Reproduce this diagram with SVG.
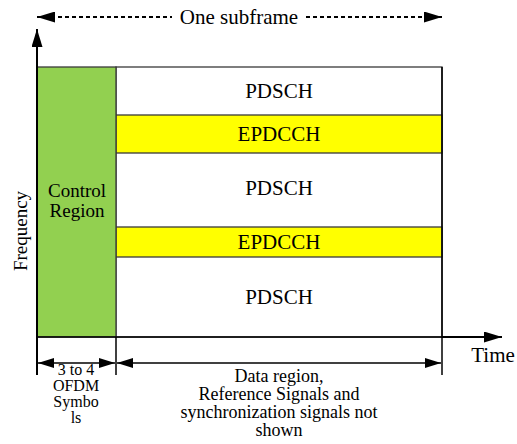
<svg xmlns="http://www.w3.org/2000/svg" width="517" height="444" viewBox="0 0 517 444" font-family="Liberation Serif">
<defs>
<marker id="ah" viewBox="0 0 10 10" refX="10" refY="5" markerWidth="18" markerHeight="11" markerUnits="userSpaceOnUse" orient="auto-start-reverse" preserveAspectRatio="none"><path d="M0,0 L10,5 L0,10 z" fill="#000"/></marker>
<marker id="ahs" viewBox="0 0 10 10" refX="10" refY="5" markerWidth="16" markerHeight="10" markerUnits="userSpaceOnUse" orient="auto-start-reverse" preserveAspectRatio="none"><path d="M0,0 L10,5 L0,10 z" fill="#000"/></marker>
</defs>
<g id="data-area" stroke="#3a3a3a" stroke-width="1.3">
<rect x="116" y="67" width="326" height="270" fill="#fff"/>
</g>
<g id="epdcch1-box" stroke="#3a3a3a" stroke-width="1.3"><rect x="116" y="115" width="326" height="38" fill="#ffff00"/></g>
<g id="epdcch2-box" stroke="#3a3a3a" stroke-width="1.3"><rect x="116" y="227" width="326" height="30" fill="#ffff00"/></g>
<g id="control-region-box" stroke="#3a3a3a" stroke-width="1.3"><rect x="37" y="67" width="79" height="270" fill="#92d050"/></g>
<g id="connectors" fill="none" stroke="#000">
<line stroke-width="2" stroke-dasharray="4 3" x1="37" y1="17" x2="172" y2="17" marker-start="url(#ah)"/>
<line stroke-width="2" stroke-dasharray="4 3" x1="306" y1="17" x2="442" y2="17" marker-end="url(#ah)"/>
<line stroke-width="2" x1="37" y1="375" x2="37" y2="29" marker-end="url(#ah)"/>
<line stroke-width="2" x1="442" y1="337" x2="502" y2="337" marker-end="url(#ah)"/>
<line stroke-width="1.5" x1="116" y1="337" x2="116" y2="375"/>
<line stroke-width="1.5" x1="442" y1="67" x2="442" y2="375"/>
<line stroke-width="1.5" x1="37" y1="337" x2="442" y2="337"/>
<line stroke-width="1.5" x1="38" y1="363" x2="115" y2="363" marker-start="url(#ahs)" marker-end="url(#ahs)"/>
<line stroke-width="1.5" x1="117" y1="363" x2="441" y2="363" marker-start="url(#ahs)" marker-end="url(#ahs)"/>
</g>
<text id="pdsch1" font-family="Liberation Serif" font-size="21" text-anchor="middle" x="279" y="98">PDSCH</text>
<text id="epdcch1" font-family="Liberation Serif" font-size="21" text-anchor="middle" x="279" y="141">EPDCCH</text>
<text id="pdsch2" font-family="Liberation Serif" font-size="21" text-anchor="middle" x="279" y="195">PDSCH</text>
<text id="epdcch2" font-family="Liberation Serif" font-size="21" text-anchor="middle" x="279" y="249">EPDCCH</text>
<text id="pdsch3" font-family="Liberation Serif" font-size="21" text-anchor="middle" x="279" y="304">PDSCH</text>
<text id="control-region-1" font-family="Liberation Serif" font-size="19" text-anchor="middle" x="77" y="197">Control</text>
<text id="control-region-2" font-family="Liberation Serif" font-size="19" text-anchor="middle" x="77" y="217">Region</text>
<text font-family="Liberation Serif" font-size="21" text-anchor="middle" x="239" y="24">One subframe</text>
<text font-family="Liberation Serif" font-size="19" text-anchor="middle" x="0" y="0" transform="translate(27,231) rotate(-90)">Frequency</text>
<text font-family="Liberation Serif" font-size="21" text-anchor="middle" x="493" y="362">Time</text>
<text font-family="Liberation Serif" font-size="16" text-anchor="middle" x="76" y="375">3 to 4</text>
<text font-family="Liberation Serif" font-size="16" text-anchor="middle" x="76" y="391">OFDM</text>
<text font-family="Liberation Serif" font-size="16" text-anchor="middle" x="76" y="407">Symbo</text>
<text font-family="Liberation Serif" font-size="16" text-anchor="middle" x="76" y="423">ls</text>
<text font-family="Liberation Serif" font-size="18" text-anchor="middle" x="279" y="382">Data region,</text>
<text font-family="Liberation Serif" font-size="18" text-anchor="middle" x="279" y="400">Reference Signals and</text>
<text font-family="Liberation Serif" font-size="18" text-anchor="middle" x="279" y="418">synchronization signals not</text>
<text font-family="Liberation Serif" font-size="18" text-anchor="middle" x="279" y="436">shown</text>
</svg>
